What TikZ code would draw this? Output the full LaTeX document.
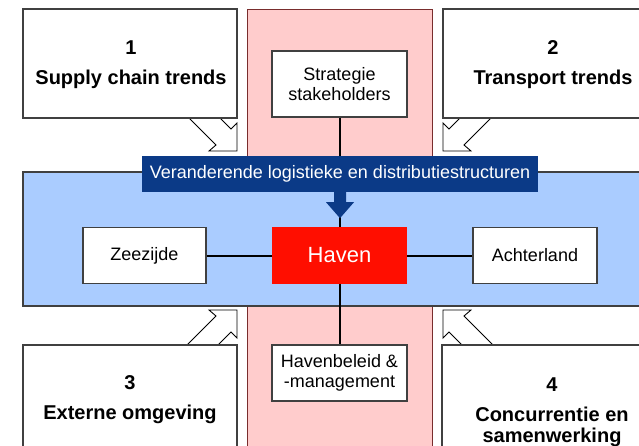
\documentclass[tikz,border=0pt]{standalone}
\usepackage{fontspec}
\setmainfont{Liberation Sans}
\definecolor{pinkbg}{HTML}{FFCCCC}
\definecolor{bluebg}{HTML}{AACCFF}
\definecolor{dkblue}{HTML}{0B3A87}
\definecolor{havenred}{HTML}{FF0E00}
\definecolor{boxline}{HTML}{404040}
\begin{document}
\begin{tikzpicture}[x=1pt,y=-1pt]
\tikzset{
  tbox/.style={draw=boxline, line width=1.1pt, fill=white, inner sep=0pt},
  lbl/.style={font=\fontsize{18}{20}\selectfont, align=center, inner sep=0pt},
  ttl/.style={font=\bfseries\fontsize{20}{30}\selectfont, align=center, inner sep=0pt, anchor=north},
  conn/.style={line width=2pt, black},
  hollow/.style={draw=black, line width=0.9pt, fill=white, line join=miter},
  smallbox/.style={tbox, lbl, minimum width=135pt, minimum height=56pt},
}
\path[use as bounding box] (0,0) rectangle (639,446);
\clip (0,0) rectangle (639,446);

% pink column
\node[draw=boxline!70!red, line width=0.9pt, fill=pinkbg, minimum width=185pt, minimum height=460pt, inner sep=0pt] (col) at (339.5,239) {};

% hollow arrows
\path[hollow] (189,118) -- (216,145) -- (209,151) -- (237,151) -- (237,123) -- (231,129) -- (220,118) -- cycle;
\path[hollow] (491,118) -- (464,145) -- (471,151) -- (443,151) -- (443,123) -- (449,129) -- (460,118) -- cycle;
\path[hollow] (187,345) -- (216,316) -- (209,310) -- (237,310) -- (237,338) -- (231,332) -- (218,345) -- cycle;
\path[hollow] (493,345) -- (464,316) -- (471,310) -- (443,310) -- (443,338) -- (449,332) -- (462,345) -- cycle;

% corner boxes
\node[tbox, minimum width=214pt, minimum height=109pt] (b1) at (130,63.5) {};
\node[tbox, minimum width=214pt, minimum height=109pt] (b2) at (550,63.5) {};
\node[tbox, minimum width=214pt, minimum height=109pt] (b3) at (130,399.5) {};
\node[tbox, minimum width=214pt, minimum height=109pt] (b4) at (549,399.5) {};
\node[ttl] (t1) at (131,40.7) {1\\Supply chain trends};
\node[ttl] (t2) at (553,40.7) {2\\Transport trends};
\node[ttl] (t3) at (130,375.7) {3\\Externe omgeving};
\node[ttl, font=\bfseries\fontsize{20}{20.5}\selectfont] (t4) at (552,377.7) {4\\[9.5pt]Concurrentie en\hspace*{4pt}\\samenwerking};

% blue band
\node[draw=boxline, line width=1.1pt, fill=bluebg, minimum width=637pt, minimum height=134pt, inner sep=0pt] (band) at (341.5,239) {};

% nodes
\node[smallbox, minimum height=66pt] (strat) at (339.5,84) {Strategie\\stakeholders};
\node[fill=havenred, text=white, font=\fontsize{22}{25}\selectfont, minimum width=135pt, minimum height=56pt, inner sep=0pt] (haven) at (339.5,255.5) {Haven};
\node[smallbox, minimum width=123pt] (zee) at (144.5,255.5) {Zeezijde};
\node[smallbox, minimum width=124pt] (achter) at (535,255.5) {Achterland};
\node[smallbox] (hbeleid) at (339.5,373) {Havenbeleid \&\\-management};

% connectors
\draw[conn] (strat) -- (haven);
\draw[conn] (zee) -- (haven);
\draw[conn] (haven) -- (achter);
\draw[conn] (haven) -- (hbeleid);

% banner and arrow
\node[fill=dkblue, text=white, font=\fontsize{18}{20}\selectfont, minimum width=396pt, minimum height=36pt, inner sep=0pt] (banner) at (340,174) {Veranderende logistieke en distributiestructuren};
\fill[dkblue] (banner.south) ++(-6,0) -- ++(0,10) -- ++(-8,0) -- ++(14,16) -- ++(14,-16) -- ++(-8,0) -- ++(0,-10) -- cycle;
\end{tikzpicture}
\end{document}
